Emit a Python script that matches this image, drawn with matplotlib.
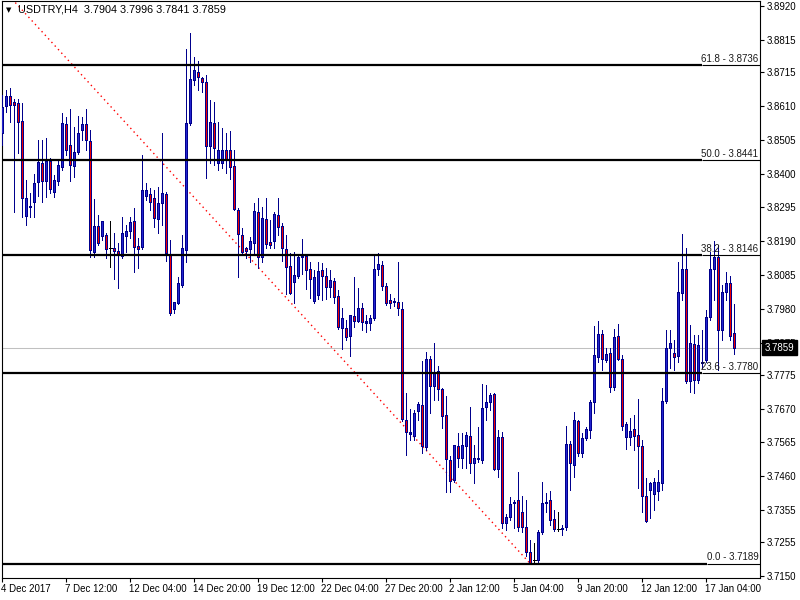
import matplotlib
matplotlib.use("Agg")
import matplotlib.pyplot as plt
import matplotlib.transforms as mtransforms
import numpy as np

# USDTRY H4 candles, 4 Dec 2017 .. 17 Jan 2018 (one value per bar)
opens = [
    3.8526, 3.8609, 3.8641, 3.8622, 3.8619, 3.8563, 3.8268, 3.8296, 3.8312, 3.8374,
    3.8433, 3.8377, 3.8439, 3.8343, 3.8377, 3.8420, 3.8554, 3.8488, 3.8423, 3.8467,
    3.8535, 3.8554, 3.8501, 3.8157, 3.8237, 3.8206, 3.8209, 3.8169, 3.8169, 3.8160,
    3.8144, 3.8206, 3.8222, 3.8253, 3.8175, 3.8172, 3.8330, 3.8337, 3.8324, 3.8259,
    3.8309, 3.8337, 3.8151, 3.7979, 3.7998, 3.8054, 3.8163, 3.8557, 3.8691, 3.8716,
    3.8697, 3.8685, 3.8486, 3.8557, 3.8433, 3.8433, 3.8473, 3.8473, 3.8423, 3.8287,
    3.8209, 3.8169, 3.8166, 3.8185, 3.8281, 3.8141, 3.8259, 3.8188, 3.8191, 3.8271,
    3.8237, 3.8166, 3.8113, 3.8064, 3.8082, 3.8141, 3.8144, 3.8104, 3.8005, 3.8023,
    3.8101, 3.8082, 3.8048, 3.8067, 3.8020, 3.7920, 3.7920, 3.7895, 3.7958, 3.7942,
    3.7983, 3.7942, 3.7936, 3.7951, 3.8104, 3.8116, 3.8051, 3.8008, 3.8005, 3.8002,
    3.7979, 3.7635, 3.7598, 3.7585, 3.7663, 3.7681, 3.7551, 3.7824, 3.7740, 3.7787,
    3.7731, 3.7650, 3.7511, 3.7449, 3.7554, 3.7517, 3.7554, 3.7585, 3.7502, 3.7514,
    3.7511, 3.7675, 3.7691, 3.7716, 3.7483, 3.7582, 3.7315, 3.7334, 3.7377, 3.7387,
    3.7350, 3.7303, 3.7225, 3.7200, 3.7200, 3.7288, 3.7377, 3.7387, 3.7328, 3.7297,
    3.7297, 3.7303, 3.7561, 3.7496, 3.7632, 3.7533, 3.7579, 3.7604, 3.7691, 3.7830,
    3.7902, 3.7821, 3.7843, 3.7737, 3.7895, 3.7824, 3.7582, 3.7582, 3.7607, 3.7588,
    3.7554, 3.7399, 3.7418, 3.7405, 3.7415, 3.7440, 3.7694, 3.7858, 3.7843, 3.7833,
    3.8030, 3.8104, 3.7756, 3.7871, 3.7759, 3.7815, 3.7821, 3.7955, 3.8104, 3.8141,
    3.7914, 3.8033, 3.8061, 3.7904]
highs = [
    3.8644, 3.8660, 3.8666, 3.8632, 3.8632, 3.8619, 3.8380, 3.8340, 3.8399, 3.8504,
    3.8504, 3.8510, 3.8448, 3.8395, 3.8442, 3.8588, 3.8575, 3.8600, 3.8544, 3.8578,
    3.8575, 3.8600, 3.8535, 3.8321, 3.8271, 3.8253, 3.8216, 3.8253, 3.8216, 3.8185,
    3.8265, 3.8240, 3.8265, 3.8293, 3.8200, 3.8457, 3.8371, 3.8355, 3.8349, 3.8358,
    3.8526, 3.8343, 3.8194, 3.8002, 3.8079, 3.8209, 3.8787, 3.8837, 3.8762, 3.8750,
    3.8700, 3.8706, 3.8628, 3.8622, 3.8560, 3.8541, 3.8526, 3.8532, 3.8473, 3.8293,
    3.8231, 3.8172, 3.8203, 3.8309, 3.8324, 3.8296, 3.8324, 3.8256, 3.8281, 3.8324,
    3.8247, 3.8209, 3.8154, 3.8157, 3.8147, 3.8197, 3.8147, 3.8126, 3.8101, 3.8126,
    3.8122, 3.8107, 3.8101, 3.8076, 3.8039, 3.7983, 3.7945, 3.7961, 3.8079, 3.8045,
    3.7998, 3.7961, 3.7961, 3.8147, 3.8154, 3.8129, 3.8061, 3.8027, 3.8014, 3.8126,
    3.8002, 3.7719, 3.7669, 3.7666, 3.7691, 3.7818, 3.7846, 3.7833, 3.7874, 3.7803,
    3.7734, 3.7709, 3.7523, 3.7557, 3.7595, 3.7595, 3.7598, 3.7675, 3.7557, 3.7613,
    3.7747, 3.7743, 3.7719, 3.7719, 3.7604, 3.7598, 3.7343, 3.7396, 3.7387, 3.7474,
    3.7399, 3.7387, 3.7263, 3.7253, 3.7294, 3.7443, 3.7409, 3.7415, 3.7356, 3.7350,
    3.7309, 3.7616, 3.7570, 3.7660, 3.7635, 3.7595, 3.7613, 3.7697, 3.7926, 3.7942,
    3.7914, 3.7858, 3.7858, 3.7917, 3.7933, 3.7836, 3.7629, 3.7641, 3.7650, 3.7700,
    3.7573, 3.7455, 3.7443, 3.7455, 3.7480, 3.7734, 3.7914, 3.7914, 3.7883, 3.8126,
    3.8212, 3.8169, 3.7930, 3.7899, 3.7899, 3.7914, 3.7976, 3.8157, 3.8191, 3.8179,
    3.8054, 3.8095, 3.8082, 3.7996]
lows = [
    3.8488, 3.8591, 3.8560, 3.8281, 3.8464, 3.8265, 3.8240, 3.8265, 3.8265, 3.8330,
    3.8312, 3.8327, 3.8340, 3.8327, 3.8364, 3.8411, 3.8457, 3.8377, 3.8389, 3.8461,
    3.8504, 3.8473, 3.8141, 3.8141, 3.8179, 3.8194, 3.8138, 3.8110, 3.8073, 3.8045,
    3.8138, 3.8157, 3.8200, 3.8095, 3.8107, 3.8166, 3.8318, 3.8287, 3.8234, 3.8216,
    3.8240, 3.8129, 3.7961, 3.7967, 3.7995, 3.8048, 3.8126, 3.8551, 3.8675, 3.8660,
    3.8654, 3.8386, 3.8433, 3.8426, 3.8411, 3.8417, 3.8402, 3.8383, 3.8287, 3.8079,
    3.8147, 3.8138, 3.8126, 3.8147, 3.8107, 3.8126, 3.8169, 3.8169, 3.8169, 3.8209,
    3.8129, 3.8027, 3.8027, 3.7998, 3.8076, 3.8089, 3.8042, 3.8014, 3.7998, 3.8011,
    3.8008, 3.8011, 3.8017, 3.7998, 3.7917, 3.7855, 3.7883, 3.7833, 3.7923, 3.7939,
    3.7914, 3.7908, 3.7914, 3.7945, 3.8085, 3.8039, 3.7992, 3.7983, 3.7989, 3.7960,
    3.7632, 3.7526, 3.7573, 3.7573, 3.7635, 3.7533, 3.7542, 3.7657, 3.7697, 3.7697,
    3.7610, 3.7412, 3.7412, 3.7443, 3.7489, 3.7486, 3.7486, 3.7471, 3.7440, 3.7505,
    3.7502, 3.7635, 3.7666, 3.7480, 3.7458, 3.7300, 3.7294, 3.7325, 3.7300, 3.7291,
    3.7288, 3.7213, 3.7189, 3.7194, 3.7194, 3.7281, 3.7350, 3.7309, 3.7291, 3.7291,
    3.7278, 3.7294, 3.7418, 3.7458, 3.7523, 3.7520, 3.7573, 3.7579, 3.7657, 3.7815,
    3.7790, 3.7815, 3.7722, 3.7728, 3.7821, 3.7604, 3.7545, 3.7557, 3.7542, 3.7424,
    3.7350, 3.7319, 3.7331, 3.7356, 3.7387, 3.7418, 3.7688, 3.7796, 3.7790, 3.7815,
    3.8008, 3.7750, 3.7722, 3.7719, 3.7750, 3.7796, 3.7815, 3.7945, 3.8008, 3.7790,
    3.7883, 3.8008, 3.7883, 3.7841]
closes = [
    3.8606, 3.8641, 3.8612, 3.8612, 3.8560, 3.8324, 3.8324, 3.8299, 3.8371, 3.8436,
    3.8377, 3.8439, 3.8352, 3.8380, 3.8426, 3.8557, 3.8473, 3.8426, 3.8467, 3.8526,
    3.8554, 3.8504, 3.8163, 3.8237, 3.8185, 3.8253, 3.8166, 3.8169, 3.8160, 3.8151,
    3.8216, 3.8222, 3.8250, 3.8172, 3.8166, 3.8349, 3.8349, 3.8312, 3.8262, 3.8309,
    3.8340, 3.8154, 3.7967, 3.8002, 3.8060, 3.8169, 3.8557, 3.8694, 3.8722, 3.8700,
    3.8685, 3.8486, 3.8560, 3.8479, 3.8473, 3.8473, 3.8442, 3.8420, 3.8290, 3.8212,
    3.8157, 3.8160, 3.8191, 3.8284, 3.8141, 3.8262, 3.8182, 3.8179, 3.8274, 3.8234,
    3.8169, 3.8110, 3.8030, 3.8085, 3.8141, 3.8147, 3.8101, 3.8073, 3.8079, 3.8098,
    3.8082, 3.8048, 3.8070, 3.8017, 3.7923, 3.7951, 3.7892, 3.7961, 3.7942, 3.7983,
    3.7939, 3.7936, 3.7951, 3.8104, 3.8119, 3.8051, 3.7998, 3.7998, 3.8002, 3.7983,
    3.7638, 3.7598, 3.7592, 3.7657, 3.7685, 3.7554, 3.7824, 3.7740, 3.7784, 3.7731,
    3.7647, 3.7514, 3.7446, 3.7557, 3.7517, 3.7557, 3.7588, 3.7502, 3.7517, 3.7517,
    3.7672, 3.7691, 3.7712, 3.7483, 3.7582, 3.7315, 3.7334, 3.7374, 3.7380, 3.7303,
    3.7303, 3.7225, 3.7191, 3.7200, 3.7288, 3.7377, 3.7380, 3.7325, 3.7297, 3.7297,
    3.7300, 3.7561, 3.7502, 3.7635, 3.7533, 3.7579, 3.7607, 3.7691, 3.7836, 3.7902,
    3.7824, 3.7840, 3.7737, 3.7892, 3.7824, 3.7616, 3.7623, 3.7601, 3.7585, 3.7554,
    3.7399, 3.7322, 3.7440, 3.7443, 3.7443, 3.7694, 3.7858, 3.7874, 3.7830, 3.8033,
    3.8104, 3.7756, 3.7874, 3.7759, 3.7867, 3.7812, 3.7955, 3.8104, 3.8141, 3.7914,
    3.8033, 3.8061, 3.7895, 3.7859]

date_ticks = [0, 16, 32, 48, 64, 80, 96, 112, 128, 144, 160, 176]
date_labels = ['4 Dec 2017', '7 Dec 12:00', '12 Dec 04:00', '14 Dec 20:00',
               '19 Dec 12:00', '22 Dec 04:00', '27 Dec 20:00', '2 Jan 12:00',
               '5 Jan 04:00', '9 Jan 20:00', '12 Jan 12:00', '17 Jan 04:00']
price_ticks = [3.8920, 3.8815, 3.8715, 3.8610, 3.8505, 3.8400, 3.8295, 3.8190, 3.8085,
               3.7980, 3.7875, 3.7775, 3.7670, 3.7565, 3.7460, 3.7355, 3.7255, 3.7150]

fib_pct = ['61.8', '50.0', '38.2', '23.6', '0.0']
fib_levels = [3.8736, 3.8441, 3.8146, 3.7780, 3.7189]
fib_bars = [-53, 132]          # anchor bars of the fibo (100% is off screen)
fib_prices = [3.9692, 3.7189]
last_price = 3.7859

navy = '#00008C'
bull = '#2424D0'
bear = '#F00000'
plt.rcParams['font.family'] = ['Liberation Sans', 'DejaVu Sans']

fig = plt.figure(figsize=(8, 6), dpi=100)
ax = fig.add_axes([2 / 800, 22 / 600, 758 / 800, 577 / 600])
ax.set_xlim(-0.05, 189.45)
ax.set_ylim(3.71443, 3.89355)

o = np.array(opens); h = np.array(highs); l = np.array(lows); c = np.array(closes)
x = np.arange(len(o))
px = 0.0003  # about one pixel in price units

# current price line
ax.axhline(last_price, color='#C0C0C0', lw=0.75, zorder=1)

# fibo diagonal
ax.plot(fib_bars, fib_prices, color='red', lw=1.0, ls=(0, (1, 2.5)), zorder=2)

# candles: wick, 3px navy body, 1px coloured core
eq = c == o
ax.vlines(x[~eq], l[~eq], h[~eq], color=navy, lw=0.72, antialiased=False, zorder=3)
ax.vlines(x[eq], l[eq], h[eq], color='black', lw=0.72, antialiased=False, zorder=3)
ax.hlines(o[eq], x[eq] - 0.4, x[eq] + 0.4, color='black', lw=0.72, antialiased=False, zorder=4)
lo = np.minimum(o, c)
hi = np.maximum(o, c)
body = ax.vlines(x[~eq], lo[~eq], hi[~eq], color=navy, lw=2.16, antialiased=False, zorder=4)
body.set_capstyle('butt')
up = (c > o) & (hi - lo > 2 * px)
dn = (c < o) & (hi - lo > 2 * px)
core_up = ax.vlines(x[up], lo[up] + px, hi[up] - px, color=bull, lw=0.72, antialiased=False, zorder=5)
core_dn = ax.vlines(x[dn], lo[dn] + px, hi[dn] - px, color=bear, lw=0.72, antialiased=False, zorder=5)
core_up.set_capstyle('butt')
core_dn.set_capstyle('butt')

# fibo levels
xmin, xmax = ax.get_xlim()
lift = mtransforms.offset_copy(ax.transData, fig=fig, y=1, units='points')
for pct, val in zip(fib_pct, fib_levels):
    lx = 176.2 if pct == '0.0' else 175.0
    ax.plot([xmin, lx], [val, val], color='black', lw=1.6, solid_capstyle='butt', zorder=6)
    ax.plot([lx, xmax], [val, val], color='black', lw=0.8, solid_capstyle='butt', zorder=6)
    ax.text(xmax - 0.4, val, f'{pct} - {val:.4f}', transform=lift, ha='right', va='bottom',
            fontsize=7, color='#1a1a1a', zorder=7)

# axes styling
for s in ax.spines.values():
    s.set_color('black')
    s.set_linewidth(0.8)
ax.yaxis.tick_right()
ax.set_yticks(price_ticks)
ax.set_yticklabels([f'{v:.4f}' for v in price_ticks])
ax.tick_params(axis='y', direction='out', length=3, width=0.8, pad=2, labelsize=7)
ax.set_xticks(date_ticks)
ax.set_xticklabels(date_labels, ha='left')
ax.tick_params(axis='x', direction='out', length=3, width=0.8, pad=1.5, labelsize=7)
offset = mtransforms.ScaledTranslation(-1 / 72, 0, fig.dpi_scale_trans)
for t in ax.get_xticklabels():
    t.set_transform(t.get_transform() + offset)

# last price box
blend = mtransforms.blended_transform_factory(ax.transAxes, ax.transData)
ax.text(1.006, last_price, f'{last_price:.4f}', transform=blend, ha='left', va='center',
        fontsize=7, color='white', clip_on=False, zorder=10,
        bbox=dict(boxstyle='square,pad=0.25', fc='black', ec='black'))

# header
fig.text(6 / 800, 1 - 10 / 600, '\u25bc', fontsize=5, family='DejaVu Sans', va='center')
fig.text(18 / 800, 1 - 10 / 600, 'USDTRY,H4  3.7904 3.7996 3.7841 3.7859', fontsize=7.8, va='center')

fig.savefig('out.png', dpi=100, facecolor='white')
